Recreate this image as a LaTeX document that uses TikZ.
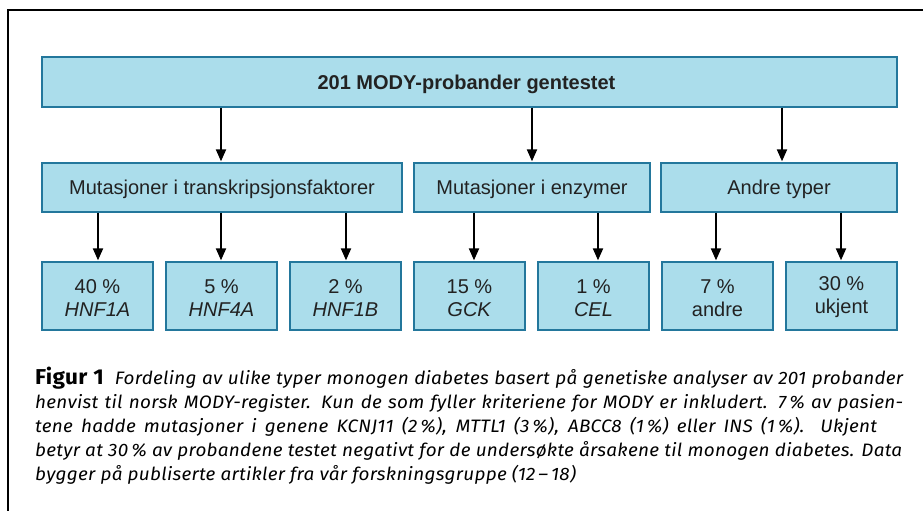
\documentclass[tikz,border=0pt]{standalone}
\usepackage{fontspec}
\setmainfont{Liberation Sans}
\newfontfamily\capfont[FakeStretch=1.05, LetterSpace=1.5]{Fira Sans}
\usetikzlibrary{arrows.meta}
\definecolor{boxfill}{HTML}{ABDDEB}
\definecolor{boxline}{HTML}{23779C}
\definecolor{boxtext}{HTML}{222222}
\tikzset{
  box/.style={draw=boxline, line width=1.3pt, fill=boxfill, text=boxtext,
    inner sep=0pt, text depth=0pt, font=\fontsize{20}{23}\selectfont, align=center},
  headbox/.style={box, minimum width=855pt, minimum height=50pt,
    font=\fontsize{20}{23}\selectfont\bfseries},
  groupbox/.style={box, minimum height=49pt},
  leafbox/.style={box, minimum width=111pt, minimum height=68pt},
  leaftext/.style={inner sep=0pt, text=boxtext, align=center,
    font=\fontsize{20}{23}\selectfont},
  arr/.style={line width=2pt, -{Triangle[length=12pt,width=10pt]}, shorten >=1pt},
  frame/.style={line width=2pt},
  capline/.style={anchor=base west, inner sep=0pt,
    font=\capfont\fontsize{18}{24}\selectfont\itshape}
}
\begin{document}
\begin{tikzpicture}[x=1pt,y=-1pt]
\useasboundingbox (0,0) rectangle (923,511);
% open frame: top rule and left rule
\draw[frame] (923,10.5) -- (7.5,10.5) -- (7.5,511);

% top level
\node[headbox] (top) at (469.5,82) {\hspace*{-6pt}201 MODY-probander gentestet};

% groups
\node[groupbox, minimum width=360pt] (g1) at (222,187.5) {Mutasjoner i transkripsjonsfaktorer};
\node[groupbox, minimum width=236pt] (g2) at (532,187.5) {Mutasjoner i enzymer};
\node[groupbox, minimum width=236pt] (g3) at (779,187.5) {Andre typer};

% leaves
\node[leafbox] (l1) at (97.5,296)  {};
\node[leafbox] (l2) at (221.5,296) {};
\node[leafbox] (l3) at (345.5,296) {};
\node[leafbox] (l4) at (469.5,296) {};
\node[leafbox] (l5) at (593.5,296) {};
\node[leafbox] (l6) at (717.5,296) {};
\node[leafbox] (l7) at (841.5,296) {};
\node[leaftext] (t1) at ([yshift=-2.5pt]l1.center) {40 \%\\\textit{HNF1A}};
\node[leaftext] (t2) at ([yshift=-2.5pt]l2.center) {5 \%\\\textit{HNF4A}};
\node[leaftext] (t3) at ([yshift=-2.5pt]l3.center) {2 \%\\\textit{HNF1B}};
\node[leaftext] (t4) at ([yshift=-2.5pt]l4.center) {15 \%\\\textit{GCK}};
\node[leaftext] (t5) at ([yshift=-2.5pt]l5.center) {1 \%\\\textit{CEL}};
\node[leaftext] (t6) at ([yshift=-2.5pt]l6.center) {7 \%\\andre};
\node[leaftext] (t7) at ([yshift=-1pt]l7.center) {30 \%\\ukjent};

% connectors from the top box
\draw[arr] ([xshift=-1pt]top.south -| g1.north) -- ([xshift=-1pt]g1.north);
\draw[arr] (top.south -| g2.north) -- (g2.north);
\draw[arr] ([xshift=3pt]top.south -| g3.north) -- ([xshift=3pt]g3.north);

% connectors from the groups
\draw[arr] ([xshift=0.5pt]g1.south -| l1.north) -- ([xshift=0.5pt]l1.north);
\draw[arr] ([xshift=-0.5pt]g1.south -| l2.north) -- ([xshift=-0.5pt]l2.north);
\draw[arr] ([xshift=0.5pt]g1.south -| l3.north) -- ([xshift=0.5pt]l3.north);
\draw[arr] ([xshift=4.5pt]g2.south -| l4.north) -- ([xshift=4.5pt]l4.north);
\draw[arr] ([xshift=4.5pt]g2.south -| l5.north) -- ([xshift=4.5pt]l5.north);
\draw[arr] ([xshift=-1.5pt]g3.south -| l6.north) -- ([xshift=-1.5pt]l6.north);
\draw[arr] ([xshift=-0.5pt]g3.south -| l7.north) -- ([xshift=-0.5pt]l7.north);

% caption
\node[capline] (c1) at (35,384) {\makebox[868pt][s]{{\upshape\bfseries\fontsize{21.5}{24}\selectfont Figur 1}\hspace{11pt}Fordeling av ulike typer monogen diabetes basert på genetiske analyser av 201 probander}};
\node[capline] (c2) at (35,408) {\makebox[868pt][s]{henvist til norsk MODY-register. Kun de som fyller kriteriene for MODY er inkludert. 7\,\% av pasien-}};
\node[capline] (c3) at (35,432) {\makebox[842pt][s]{tene hadde mutasjoner i genene KCNJ11 (2\,\%), MTTL1 (3\,\%), ABCC8 (1\,\%) eller INS (1\,\%). Ukjent}};
\node[capline] (c4) at (35,456) {\makebox[867pt][s]{betyr at 30\,\% av probandene testet negativt for de undersøkte årsakene til monogen diabetes. Data}};
\node[capline] (c5) at (35,480) {bygger på publiserte artikler fra vår forskningsgruppe (12\,–\,18)};
\end{tikzpicture}
\end{document}
